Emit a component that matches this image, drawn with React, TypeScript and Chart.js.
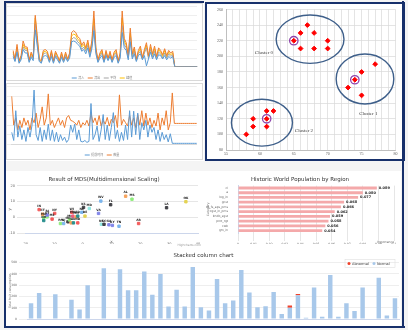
import React, { useEffect, useRef } from "react";
import { Chart, registerables } from "chart.js";
Chart.register(...registerables);

// ---------- Panel A: 4-series line chart ----------
const catsA = Array.from({ length: 92 }, (_, i) => String(i + 1));
const legendA = ["流入", "流出", "平均", "峰值"];
const a1 = [1200,600,1700,400,800,2000,1600,1600,500,1100,700,4300,2400,600,400,1200,1300,1200,500,1200,400,1200,800,400,1100,500,1100,600,1000,2900,3000,2900,2600,2400,1800,2000,1500,2200,1100,2100,4200,1500,500,1000,1300,500,1300,700,1200,500,1100,1300,400,1000,4000,2200,1900,800,2900,900,1500,600,1300,1500,800,1300,100,900,1700,900,1500,800,1400,1300,900,1300,800,1200,1000,1200,0,0,0,0,0,0,0,0,0,0,0,0];
const a2 = [1900,900,2600,700,1300,3000,2300,2300,800,1700,1100,6000,3600,900,700,1900,2000,1800,800,1900,700,1800,1300,700,1700,800,1700,900,1600,4000,4200,4000,3500,3300,2500,2900,2200,3100,1700,3000,6500,2200,800,1600,2000,800,1900,1000,1800,800,1700,2000,700,1600,6500,3300,2800,1300,4500,1500,2300,900,1900,2400,1100,2000,2800,1300,2600,1500,2400,1200,2200,1900,1400,2100,1300,1900,1600,1800,0,0,0,0,0,0,0,0,0,0,0,0];
const a3 = [1500,700,2000,500,1000,2300,1900,1900,600,1300,900,5000,2800,700,500,1500,1600,1400,600,1500,500,1400,1000,500,1300,600,1300,700,1200,3200,3400,3300,2900,2700,2000,2300,1800,2500,1300,2400,4800,1800,600,1200,1600,600,1500,800,1400,600,1300,1600,500,1200,4800,2600,2200,1000,3400,1100,1800,700,1500,1800,900,1600,2200,1000,2000,1100,1800,900,1700,1500,1000,1600,1000,1500,1200,1400,0,0,0,0,0,0,0,0,0,0,0,0];
const a4 = [1700,800,2300,600,1100,2600,2100,2100,700,1500,1000,5700,3200,800,600,1700,1800,1600,700,1700,600,1600,1200,600,1500,700,1500,800,1400,3600,3800,3700,3200,3000,2300,2600,2000,2800,1500,2700,5600,2000,700,1400,1800,700,1700,900,1600,700,1500,1800,600,1400,5700,3000,2500,1100,3900,1300,2000,800,1700,2100,1000,1800,2500,1100,2300,1300,2100,1100,2000,1700,1200,1900,1100,1700,1400,1600,0,0,0,0,0,0,0,0,0,0,0,0];

// ---------- Panel B: dual-axis line chart ----------
const legendB = ["提前时间", "数量"];
const b1 = [250,80,700,150,380,100,300,60,350,150,400,1130,200,80,350,60,300,100,420,80,300,60,250,50,200,80,150,40,100,400,250,420,100,300,60,50,80,40,60,850,100,200,380,60,300,620,100,400,80,350,660,120,300,60,250,80,400,100,700,150,690,200,650,100,450,300,500,150,400,250,350,100,300,60,250,100,200,50,220,20,20,20,20,20,20,20,20,20,20,20,20,20];
const b2 = [1000,400,550,300,500,350,550,400,500,300,550,450,650,350,520,780,400,550,1050,400,500,350,450,550,400,500,350,550,600,500,480,450,400,500,350,450,400,500,380,650,450,550,400,600,380,500,420,560,380,520,450,600,350,1030,400,520,450,380,600,400,550,350,620,400,700,380,650,400,550,350,500,380,650,300,550,400,700,300,450,1070,435,435,435,435,435,435,435,435,435,435,435,435];

// ---------- Panel C: k-means clusters ----------
const ptX = [66,67,68,66,68,70,70, 75,77,73,75, 61,62,59,59,61,58];
const ptY = [230,240,230,210,210,220,210, 180,190,160,150, 130,130,120,110,110,100];
const cenX = [65,74,61];
const cenY = [220,170,120];
const ellCX = [67.4,75.5,60.3];
const ellCY = [222,171,115];
const ellRX = [5.0,4.25,4.5];
const ellRY = [31,32,30];
const clusterNames = ["Cluster 0","Cluster 1","Cluster 2"];
const clusterLabX = [60.6,76,66.5];
const clusterLabY = [205,126,105];

// ---------- Panel D: MDS scatter ----------
const mdsX = [-15.1,-13.9,-13.5,-13.5,-12.3,-12.3,-10.6,-9.7,-7.7,-6.6,-5.1,-4.6,-4,-3.8,-3.4,-3.2,-2.3,-1.7,-1.7,-0.3,0.3,0.8,2.3,5.5,6.3,6.5,7.4,9.1,9.7,10.3,12.6,14.9,17.1,19.4,29.1,35.8];
const mdsY = [4.8,1.9,-0.5,-2.1,0.2,1.4,-1.2,2.4,-4,-4,-2.9,-1.7,-3.6,3.1,0.7,-3.6,0.2,-3.6,0.7,3.1,6.2,0.7,5.5,2.4,10.2,-4.5,-4.5,-4.8,7.9,-5.2,-5.7,13.3,11.4,-4,6,9.8];
const mdsLab = ["IN","CT","MA","NH","VT","RI","ME","NY","PA","NJ","OH","MI","IL","WI","MN","IA","MO","ND","SD","NE","KS","DE","MD","VA","WV","NC","SC","GA","FL","KY","TN","AL","MS","AR","LA","OK"];
const mdsCol = ["#f45b5b","#f7a35c","#90ed7d","#2b908f","#90ed7d","#8085e9","#f45b5b","#f45b5b","#90ed7d","#7cb5ec","#434348","#90ed7d","#f7a35c","#f45b5b","#f15c80","#2b908f","#f7a35c","#f45b5b","#2b908f","#7cb5ec","#434348","#e4d354","#91e8e1","#8085e9","#7cb5ec","#91e8e1","#434348","#8085e9","#434348","#8085e9","#7cb5ec","#f7a35c","#90ed7d","#f45b5b","#434348","#e4d354"];

// ---------- Panel E: horizontal bars ----------
const featNames = ["cl","a","log_in","gcst","kmkdk_fs_aps_pms","xgst_in_pms","kndb_sgst","pmt_rgt","cwb","gm_in"];
const featVals = [0.089,0.080,0.077,0.068,0.066,0.062,0.059,0.058,0.056,0.054];

// ---------- Panel F: stacked columns ----------
const catsF = ["0","1","2","3","4","5","6","7","8","9","10","11","12","13","14","15","16","17","18","19","20","21","22","23","24","25","26","27","28","29","30","31","32","33","34","35","36","37","38","39","40","41","42","43","44","45"];
const normalF = [140,230,0,220,5,170,85,300,0,450,0,440,255,255,420,215,400,110,260,110,460,105,75,355,140,165,435,235,105,112,240,45,100,210,12,280,20,390,20,140,72,280,0,365,30,185];
const abnormalF = [0,0,0,0,0,0,0,0,0,0,0,0,0,0,0,0,0,0,0,0,0,0,0,0,0,0,0,0,0,0,0,0,20,12,0,0,0,0,0,0,0,0,0,0,0,0];

const NAVY = "#17306b";

const fixW = (w: number) => (s: any) => { s.width = w; };
const fixH = (h: number) => (s: any) => { s.height = h; };

function ChartCanvas({ l, t, w, h, make, border }: { l: number; t: number; w: number; h: number; make: () => any; border?: boolean }) {
  const ref = useRef<HTMLCanvasElement>(null);
  useEffect(() => {
    const c = new Chart(ref.current!, make());
    return () => c.destroy();
  }, []);
  return (
    <canvas
      ref={ref}
      width={w}
      height={h}
      style={{ position: "absolute", left: l, top: t, width: w, height: h, boxSizing: "border-box", outline: border ? "1px solid #d9d9d9" : "none", outlineOffset: -1 }}
    />
  );
}

const cjk = "'Noto Sans CJK SC', 'DejaVu Sans', sans-serif";
const sans = "'DejaVu Sans', 'Liberation Sans', sans-serif";
const serif = "'Liberation Serif', 'DejaVu Serif', serif";

// legend with short line samples, centred on cx, drawn at y (canvas px)
function lineLegend(labels: string[], colors: string[], cx: number, y: number) {
  return {
    id: "lineLegend",
    afterDraw(chart: any) {
      const { ctx } = chart;
      ctx.save();
      ctx.font = `3px ${cjk}`;
      ctx.textBaseline = "middle";
      const widths = labels.map((t) => 5 + 1.5 + ctx.measureText(t).width);
      const gap = 3.5;
      const total = widths.reduce((a, b) => a + b, 0) + gap * (labels.length - 1);
      let x = cx - total / 2;
      labels.forEach((t, i) => {
        ctx.strokeStyle = colors[i];
        ctx.lineWidth = 1;
        ctx.beginPath(); ctx.moveTo(x, y); ctx.lineTo(x + 5, y); ctx.stroke();
        ctx.fillStyle = "#7f7f7f";
        ctx.fillText(t, x + 6.5, y);
        x += widths[i] + gap;
      });
      ctx.restore();
    },
  };
}

const colsA = ["#5b9bd5", "#ed7d31", "#a5a5a5", "#ffc000"];

function makeA() {
  const series = [a1, a2, a3, a4];
  return {
    type: "line",
    data: {
      labels: catsA,
      datasets: series.map((d, i) => ({ label: legendA[i], data: d, borderColor: colsA[i], backgroundColor: colsA[i], borderWidth: 1, pointRadius: 0, tension: 0 })),
    },
    options: {
      animation: false, responsive: false,
      layout: { padding: { right: 6, top: 3.7, left: 0, bottom: 8.3 } },
      plugins: { legend: { display: false }, tooltip: { enabled: false } },
      scales: {
        x: { afterFit: fixH(6), grid: { display: false }, border: { color: "#d9d9d9" }, ticks: { font: { size: 2.6, family: sans }, color: "#a6a6a6", maxRotation: 90, minRotation: 90, autoSkip: false, padding: 1 } },
        y: { min: 0, max: 7000, afterFit: fixW(7), grid: { color: "#eeeeee" }, border: { display: false }, ticks: { stepSize: 1000, font: { size: 2.6, family: sans }, color: "#a6a6a6", padding: 1, callback: (v: number) => v.toLocaleString("en-US") } },
      },
    },
    plugins: [lineLegend(legendA, colsA, 96, 75)],
  };
}

function makeB() {
  const cols = ["#5b9bd5", "#ed7d31"];
  return {
    type: "line",
    data: {
      labels: catsA,
      datasets: [
        { label: legendB[0], data: b1, borderColor: cols[0], backgroundColor: cols[0], borderWidth: 1, pointRadius: 0, yAxisID: "y" },
        { label: legendB[1], data: b2, borderColor: cols[1], backgroundColor: cols[1], borderWidth: 1, pointRadius: 0, yAxisID: "y1" },
      ],
    },
    options: {
      animation: false, responsive: false,
      layout: { padding: { right: 0, top: 3.7, left: 0, bottom: 9.7 } },
      plugins: { legend: { display: false }, tooltip: { enabled: false } },
      scales: {
        x: { afterFit: fixH(6), grid: { display: false }, border: { color: "#d9d9d9" }, ticks: { font: { size: 2.6, family: sans }, color: "#a6a6a6", maxRotation: 90, minRotation: 90, autoSkip: false, padding: 1 } },
        y: { min: 0, max: 1200, afterFit: fixW(5.7), grid: { color: "#eeeeee" }, border: { display: false }, ticks: { stepSize: 200, font: { size: 2.6, family: sans }, color: "#a6a6a6", padding: 1 } },
        y1: { position: "right", min: 0, max: 1200, afterFit: fixW(6.3), grid: { display: false }, border: { display: false }, ticks: { stepSize: 200, font: { size: 2.6, family: sans }, color: "#a6a6a6", padding: 1 } },
      },
    },
    plugins: [lineLegend(legendB, cols, 96, 72)],
  };
}

function makeC() {
  const ellipsePlugin = {
    id: "ellipses",
    afterDatasetsDraw(chart: any) {
      const { ctx, scales } = chart;
      const xs = scales.x, ys = scales.y;
      ctx.save();
      ctx.strokeStyle = "#3e5f8a";
      ctx.lineWidth = 1.4;
      for (let i = 0; i < ellCX.length; i++) {
        const cx = xs.getPixelForValue(ellCX[i]);
        const cy = ys.getPixelForValue(ellCY[i]);
        const rx = Math.abs(xs.getPixelForValue(ellCX[i] + ellRX[i]) - cx);
        const ry = Math.abs(ys.getPixelForValue(ellCY[i] + ellRY[i]) - cy);
        ctx.beginPath();
        ctx.ellipse(cx, cy, rx, ry, 0, 0, Math.PI * 2);
        ctx.stroke();
      }
      ctx.fillStyle = "#404040";
      ctx.font = `5px ${serif}`;
      ctx.textAlign = "center";
      ctx.textBaseline = "middle";
      for (let i = 0; i < clusterNames.length; i++) {
        ctx.fillText(clusterNames[i], xs.getPixelForValue(clusterLabX[i]), ys.getPixelForValue(clusterLabY[i]));
      }
      ctx.restore();
    },
  };
  return {
    type: "scatter",
    data: {
      datasets: [
        { data: ptX.map((x, i) => ({ x, y: ptY[i] })), pointStyle: "rectRot", radius: 2.4, backgroundColor: "#ff0000", borderColor: "#ff0000" },
        { data: cenX.map((x, i) => ({ x, y: cenY[i] })), pointStyle: "rectRot", radius: 2.4, backgroundColor: "#ff0000", borderColor: "#ff0000" },
        { data: cenX.map((x, i) => ({ x, y: cenY[i] })), pointStyle: "circle", radius: 4.2, backgroundColor: "rgba(0,0,0,0)", borderColor: "#8e44ad", borderWidth: 1.3 },
      ],
    },
    options: {
      animation: false, responsive: false,
      layout: { padding: { right: 4, top: 4, left: 0, bottom: 0 } },
      plugins: { legend: { display: false }, tooltip: { enabled: false } },
      scales: {
        x: { min: 55, max: 80, afterFit: fixH(7), grid: { color: "#d9d9d9", lineWidth: 0.7, drawTicks: false }, border: { color: "#bfbfbf" }, ticks: { stepSize: 1, maxTicksLimit: 40, autoSkip: false, maxRotation: 0, font: { size: 4, family: serif }, color: "#595959", padding: 2, callback: (v: number) => (v % 5 === 0 ? String(v) : "") } },
        y: { min: 80, max: 260, afterFit: fixW(19), grid: { color: "#d9d9d9", lineWidth: 0.7, drawTicks: false }, border: { color: "#bfbfbf" }, ticks: { stepSize: 20, font: { size: 4, family: serif }, color: "#595959", padding: 3 } },
      },
    },
    plugins: [ellipsePlugin],
  };
}

function makeD() {
  const labelPlugin = {
    id: "mdsLabels",
    afterDatasetsDraw(chart: any) {
      const { ctx } = chart;
      const meta = chart.getDatasetMeta(0);
      ctx.save();
      ctx.font = `bold 3px ${sans}`;
      ctx.fillStyle = "#222";
      ctx.textAlign = "center";
      ctx.textBaseline = "bottom";
      meta.data.forEach((el: any, i: number) => ctx.fillText(mdsLab[i], el.x, el.y - 2));
      ctx.font = `3px ${sans}`;
      ctx.fillStyle = "#999";
      ctx.textAlign = "right";
      ctx.fillText("Highcharts.com", chart.width - 2, chart.height - 1);
      ctx.restore();
    },
  };
  return {
    type: "scatter",
    data: { datasets: [{ data: mdsX.map((x, i) => ({ x, y: mdsY[i] })), pointStyle: "rect", radius: 1.7, backgroundColor: mdsCol, borderColor: mdsCol }] },
    options: {
      animation: false, responsive: false,
      layout: { padding: { right: 3, top: 0, left: 0, bottom: 4 } },
      plugins: {
        legend: { display: false }, tooltip: { enabled: false },
        title: { display: true, text: "Result of MDS(Multidimensional Scaling)", font: { size: 5.5, family: sans, weight: "normal" }, color: "#333", padding: { top: 4, bottom: 3 } },
      },
      scales: {
        x: { min: -20, max: 40, afterFit: fixH(11), title: { display: true, text: "x", font: { size: 4, family: sans }, color: "#666", padding: 0 }, grid: { display: false }, border: { color: "#ccd6eb" }, ticks: { stepSize: 10, maxRotation: 0, font: { size: 3.5, family: sans }, color: "#666", padding: 1 } },
        y: { min: -10, max: 20, afterFit: fixW(17), title: { display: true, text: "y", font: { size: 4, family: sans }, color: "#666", padding: 0 }, grid: { color: "#e6e6e6" }, border: { display: false }, ticks: { stepSize: 10, font: { size: 3.5, family: sans }, color: "#666", padding: 2 } },
      },
    },
    plugins: [labelPlugin],
  };
}

function makeE() {
  const valPlugin = {
    id: "vals",
    afterDatasetsDraw(chart: any) {
      const { ctx } = chart;
      const meta = chart.getDatasetMeta(0);
      ctx.save();
      ctx.font = `bold 3.5px ${sans}`;
      ctx.fillStyle = "#222";
      ctx.textBaseline = "middle";
      meta.data.forEach((el: any, i: number) => ctx.fillText(featVals[i].toFixed(3), el.x + 2, el.y));
      ctx.restore();
    },
  };
  return {
    type: "bar",
    data: { labels: featNames, datasets: [{ data: featVals, backgroundColor: "#f4a9aa", borderWidth: 0, barPercentage: 0.6, categoryPercentage: 1 }] },
    options: {
      indexAxis: "y",
      animation: false, responsive: false,
      layout: { padding: { right: 7, top: 0, left: 0, bottom: 4 } },
      plugins: {
        legend: { display: false }, tooltip: { enabled: false },
        title: { display: true, text: "Historic World Population by Region", font: { size: 5.5, family: sans, weight: "normal" }, color: "#333", padding: { top: 4, bottom: 3 } },
      },
      scales: {
        x: { min: 0, max: 0.1, afterFit: fixH(11), title: { display: true, text: "Importance", align: "end", font: { size: 3, family: sans }, color: "#666", padding: 0 }, grid: { color: "#e6e6e6" }, border: { display: false }, ticks: { stepSize: 0.01, maxRotation: 0, font: { size: 3, family: sans }, color: "#666", padding: 1, callback: (v: number) => String(Math.round(v * 100) / 100) } },
        y: { afterFit: fixW(32), title: { display: true, text: "Category", font: { size: 3, family: sans }, color: "#666", padding: 0 }, grid: { display: false }, border: { color: "#ccd6eb" }, ticks: { font: { size: 3, family: sans }, color: "#666", padding: 2, autoSkip: false } },
      },
    },
    plugins: [valPlugin],
  };
}

function makeF() {
  const legendPlugin = {
    id: "legF",
    afterDraw(chart: any) {
      const { ctx, chartArea } = chart;
      ctx.save();
      const x0 = chartArea.right - 54, y0 = chartArea.top - 3;
      ctx.strokeStyle = "#e0e0e0";
      ctx.lineWidth = 0.6;
      ctx.strokeRect(x0, y0, 50, 8);
      ctx.font = `3.5px ${sans}`;
      ctx.textBaseline = "middle";
      ctx.fillStyle = "#f0412a";
      ctx.beginPath(); ctx.arc(x0 + 4, y0 + 4, 1.5, 0, Math.PI * 2); ctx.fill();
      ctx.fillStyle = "#333";
      ctx.fillText("Abnormal", x0 + 7, y0 + 4);
      ctx.fillStyle = "#a8c8ea";
      ctx.beginPath(); ctx.arc(x0 + 29, y0 + 4, 1.5, 0, Math.PI * 2); ctx.fill();
      ctx.fillStyle = "#333";
      ctx.fillText("Normal", x0 + 32, y0 + 4);
      ctx.restore();
    },
  };
  return {
    type: "bar",
    data: {
      labels: catsF,
      datasets: [
        { label: "Normal", data: normalF, backgroundColor: "#a8c8ea", stack: "s", barPercentage: 0.55, categoryPercentage: 1 },
        { label: "Abnormal", data: abnormalF, backgroundColor: "#f0412a", stack: "s", barPercentage: 0.55, categoryPercentage: 1 },
      ],
    },
    options: {
      animation: false, responsive: false,
      layout: { padding: { right: 2, top: 0, left: 0, bottom: 0 } },
      plugins: {
        legend: { display: false }, tooltip: { enabled: false },
        title: { display: true, text: "Stacked column chart", font: { size: 5.5, family: sans, weight: "normal" }, color: "#333", padding: { top: 3, bottom: 4 } },
      },
      scales: {
        x: { stacked: true, afterFit: fixH(6), grid: { display: false }, border: { color: "#ccd6eb" }, ticks: { autoSkip: false, maxRotation: 0, font: { size: 3, family: sans }, color: "#666", padding: 1 } },
        y: { stacked: true, min: 0, max: 500, afterFit: fixW(19), title: { display: true, text: "Total fruit consumption", font: { size: 3, family: sans }, color: "#666", padding: 0 }, grid: { color: "#eeeeee" }, border: { display: false }, ticks: { stepSize: 100, font: { size: 3, family: sans }, color: "#666", padding: 2 } },
      },
    },
    plugins: [legendPlugin],
  };
}

export default function App() {
  useEffect(() => {
    document.body.style.margin = "0";
    document.body.style.background = "#ffffff";
  }, []);
  return (
    <div style={{ position: "relative", width: 408, height: 330, background: "#f4f4f4", overflow: "hidden" }}>
      <div style={{ position: "absolute", left: 6, top: 3, width: 198, height: 158, background: "#fff" }} />
      <div style={{ position: "absolute", left: 6, top: 171, width: 395, height: 155, background: "#fff" }} />
      <div style={{ position: "absolute", left: 205, top: 2, width: 196, height: 155, background: "#fff", border: `2px solid ${NAVY}` }} />
      <div style={{ position: "absolute", left: 4, top: 2, width: 2, height: 326, background: NAVY }} />
      <div style={{ position: "absolute", left: 4, top: 1, width: 200, height: 2, background: NAVY }} />
      <div style={{ position: "absolute", left: 4, top: 326, width: 401, height: 2, background: NAVY }} />
      <div style={{ position: "absolute", left: 402, top: 1, width: 2, height: 327, background: NAVY }} />
      <ChartCanvas l={6} t={3} w={197} h={78} make={makeA} border />
      <ChartCanvas l={6} t={83} w={197} h={77} make={makeB} border />
      <ChartCanvas l={207} t={4} w={194} h={153} make={makeC} />
      <ChartCanvas l={8} t={172} w={195} h={76} make={makeD} />
      <ChartCanvas l={206} t={172} w={195} h={76} make={makeE} />
      <ChartCanvas l={8} t={249} w={393} h={76} make={makeF} />
    </div>
  );
}
